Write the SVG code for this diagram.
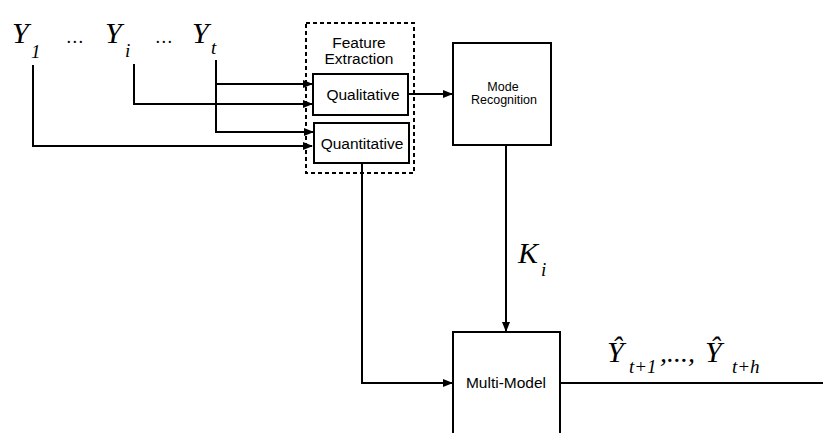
<svg xmlns="http://www.w3.org/2000/svg" width="823" height="433" viewBox="0 0 823 433">
<style>
.box{fill:#fff;stroke:#000;stroke-width:2}
.ln{fill:none;stroke:#000;stroke-width:2}
.lbl{font-family:"Liberation Sans",Arial,sans-serif;fill:#000;text-anchor:middle}
.m{font-family:"Liberation Serif","Times New Roman",serif;font-style:italic;fill:#000}
</style>
<defs>
<marker id="ah" markerWidth="10" markerHeight="8" refX="9" refY="4" orient="auto" markerUnits="userSpaceOnUse">
<path d="M0,0 L10,4 L0,8 Z" fill="#000"/>
</marker>
</defs>
<rect width="823" height="433" fill="#fff"/>
<g id="inputs">
<text class="m" x="12" y="43" font-size="30">Y</text>
<text class="m" x="31" y="58" font-size="19">1</text>
<text class="m" x="67" y="43" font-size="18" letter-spacing="1.5">...</text>
<text class="m" x="105" y="43" font-size="30">Y</text>
<text class="m" x="125" y="57" font-size="19">i</text>
<text class="m" x="156" y="43" font-size="18" letter-spacing="1.5">...</text>
<text class="m" x="192" y="43" font-size="30">Y</text>
<text class="m" x="211" y="54" font-size="19">t</text>
</g>
<g id="feature-extraction">
<rect x="306" y="23" width="108" height="150" fill="none" stroke="#000" stroke-width="2" stroke-dasharray="4,3"/>
<text class="lbl" x="359" y="48" font-size="15.5">Feature</text>
<text class="lbl" x="359" y="64" font-size="15.5">Extraction</text>
</g>
<g id="qualitative">
<rect class="box" x="313" y="74" width="95" height="41"/>
<text class="lbl" x="363" y="100" font-size="15.5">Qualitative</text>
</g>
<g id="quantitative">
<rect class="box" x="314" y="123" width="95" height="40"/>
<text class="lbl" x="362" y="149" font-size="15.5">Quantitative</text>
</g>
<g id="mode-recognition">
<rect class="box" x="453" y="43" width="98" height="102"/>
<text class="lbl" x="503" y="91" font-size="12.5">Mode</text>
<text class="lbl" x="504" y="104" font-size="12.5">Recognition</text>
</g>
<g id="multi-model">
<rect class="box" x="453" y="332" width="107" height="110"/>
<text class="lbl" x="506" y="388" font-size="15.5">Multi-Model</text>
</g>
<g id="connectors">
<path class="ln" d="M33,65 V146 H312" marker-end="url(#ah)"/>
<path class="ln" d="M134,64 V104 H312" marker-end="url(#ah)"/>
<path class="ln" d="M216,60 V132 H313" marker-end="url(#ah)"/>
<path class="ln" d="M216,84 H312" marker-end="url(#ah)"/>
<path class="ln" d="M408,94 H452" marker-end="url(#ah)"/>
<path class="ln" d="M506,145 V331" marker-end="url(#ah)"/>
<path class="ln" d="M362,163 V383 H452" marker-end="url(#ah)"/>
<path class="ln" d="M560,383 H823"/>
</g>
<g id="labels">
<text class="m" x="518" y="263" font-size="30">K</text>
<text class="m" x="541" y="276" font-size="19">i</text>
<text class="m" x="607" y="362" font-size="30">Ŷ</text>
<text class="m" x="629" y="373" font-size="19">t+1</text>
<text class="m" x="660" y="362" font-size="28">,...,</text>
<text class="m" x="705" y="362" font-size="30">Ŷ</text>
<text class="m" x="732" y="373" font-size="19">t+h</text>
</g>
</svg>
